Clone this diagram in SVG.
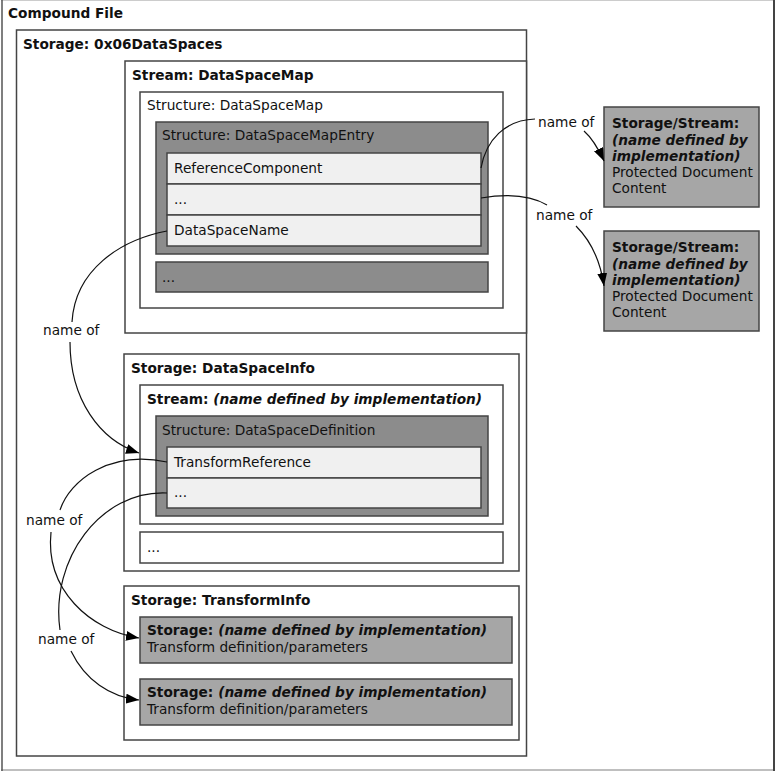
<svg xmlns="http://www.w3.org/2000/svg" width="776" height="771" viewBox="0 0 776 771">
<defs>
<style>
text{font-family:"DejaVu Sans","Liberation Sans",sans-serif;font-size:13.7px;fill:#111}
.b{font-weight:bold}
.bi{font-weight:bold;font-style:italic}
.box{fill:#fff;stroke:#444;stroke-width:1.5}
.dark{fill:#8c8c8c;stroke:#444;stroke-width:1.5}
.row{fill:#f0f0f0;stroke:#444;stroke-width:1.5}
.gray{fill:#a6a6a6;stroke:#444;stroke-width:1.5}
.con{fill:none;stroke:#111;stroke-width:1.2}
</style>
<marker id="ah" markerUnits="userSpaceOnUse" markerWidth="14" markerHeight="10" refX="13" refY="5" orient="auto">
<path d="M0,0 L13,5 L0,10 Z" fill="#000"/>
</marker>
</defs>
<rect width="776" height="771" fill="#fff"/>
<g id="compound-file">
<line x1="1" y1="0.5" x2="775" y2="0.5" stroke="#ccc" stroke-width="1"/>
<line x1="1" y1="770" x2="775" y2="770" stroke="#aaa" stroke-width="1.5"/>
<line x1="2" y1="0" x2="2" y2="771" stroke="#555" stroke-width="1.5"/>
<line x1="774" y1="0" x2="774" y2="771" stroke="#444" stroke-width="2"/>
<text x="8" y="18" class="b">Compound File</text>
</g>
<g id="storage-dataspaces">
<rect class="box" x="16.5" y="30" width="510" height="726"/>
<text x="23" y="49" class="b">Storage: 0x06DataSpaces</text>
</g>
<g id="stream-dataspacemap">
<rect class="box" x="125" y="61" width="401.5" height="272"/>
<text x="132" y="80" class="b">Stream: DataSpaceMap</text>
</g>
<g id="structure-dataspacemap">
<rect class="box" x="140" y="92" width="363" height="216"/>
<text x="147" y="110">Structure: DataSpaceMap</text>
</g>
<g id="structure-dataspacemapentry">
<rect class="dark" x="156" y="122" width="332" height="132"/>
<text x="162" y="140">Structure: DataSpaceMapEntry</text>
</g>
<g id="row-referencecomponent">
<rect class="row" x="167" y="153" width="314" height="31"/>
<text x="174" y="173">ReferenceComponent</text>
</g>
<g id="row-ellipsis-1">
<rect class="row" x="167" y="184" width="314" height="31"/>
<text x="174" y="204">...</text>
</g>
<g id="row-dataspacename">
<rect class="row" x="167" y="215" width="314" height="31"/>
<text x="174" y="235">DataSpaceName</text>
</g>
<g id="entry-ellipsis">
<rect class="dark" x="156" y="262" width="332" height="30"/>
<text x="162" y="282">...</text>
</g>
<g id="protected-content-1">
<rect class="gray" x="604" y="107" width="155" height="100"/>
<text x="612" y="128" class="b">Storage/Stream:</text>
<text x="612" y="145" class="bi">(name defined by</text>
<text x="612" y="161" class="bi">implementation)</text>
<text x="612" y="177">Protected Document</text>
<text x="612" y="193">Content</text>
</g>
<g id="protected-content-2">
<rect class="gray" x="604" y="231" width="155" height="100"/>
<text x="612" y="252" class="b">Storage/Stream:</text>
<text x="612" y="269" class="bi">(name defined by</text>
<text x="612" y="285" class="bi">implementation)</text>
<text x="612" y="301">Protected Document</text>
<text x="612" y="317">Content</text>
</g>
<g id="storage-dataspaceinfo">
<rect class="box" x="124" y="354" width="395" height="217"/>
<text x="131" y="373" class="b">Storage: DataSpaceInfo</text>
</g>
<g id="stream-impl">
<rect class="box" x="140" y="385" width="363" height="139"/>
<text x="147" y="404"><tspan class="b">Stream: </tspan><tspan class="bi">(name defined by implementation)</tspan></text>
</g>
<g id="structure-dataspacedefinition">
<rect class="dark" x="156" y="416" width="332" height="100"/>
<text x="162" y="435">Structure: DataSpaceDefinition</text>
</g>
<g id="row-transformreference">
<rect class="row" x="167" y="447" width="314" height="31"/>
<text x="174" y="467">TransformReference</text>
</g>
<g id="row-ellipsis-2">
<rect class="row" x="167" y="478" width="314" height="30"/>
<text x="174" y="497">...</text>
</g>
<g id="stream-ellipsis">
<rect class="box" x="140" y="532" width="363" height="31"/>
<text x="147" y="552">...</text>
</g>
<g id="storage-transforminfo">
<rect class="box" x="124" y="586" width="395" height="154"/>
<text x="131" y="605" class="b">Storage: TransformInfo</text>
</g>
<g id="transform-1">
<rect class="gray" x="140" y="617" width="372" height="46"/>
<text x="147" y="635"><tspan class="b">Storage: </tspan><tspan class="bi">(name defined by implementation)</tspan></text>
<text x="147" y="652">Transform definition/parameters</text>
</g>
<g id="transform-2">
<rect class="gray" x="140" y="679" width="372" height="46"/>
<text x="147" y="697"><tspan class="b">Storage: </tspan><tspan class="bi">(name defined by implementation)</tspan></text>
<text x="147" y="714">Transform definition/parameters</text>
</g>
<g id="connectors">
<path class="con" d="M481,168 C486,140 505,120 535,119"/>
<path class="con" d="M584,131 C592,138 598,148 604,161" marker-end="url(#ah)"/>
<text x="538" y="127">name of</text>
<path class="con" d="M481,198 C505,194 530,195 547,205"/>
<path class="con" d="M576,226 C590,240 600,258 604,286" marker-end="url(#ah)"/>
<text x="536" y="220">name of</text>
<path class="con" d="M167,231 C120,240 75,270 72,322"/>
<path class="con" d="M70,342 C70,400 100,440 139,453" marker-end="url(#ah)"/>
<text x="43" y="335">name of</text>
<path class="con" d="M167,462 C110,450 70,480 60,510"/>
<path class="con" d="M51,532 C45,590 90,630 139,638" marker-end="url(#ah)"/>
<text x="26" y="525">name of</text>
<path class="con" d="M167,493 C100,490 50,560 60,630"/>
<path class="con" d="M71,651 C85,680 110,697 139,700" marker-end="url(#ah)"/>
<text x="38" y="644">name of</text>
</g>
</svg>
